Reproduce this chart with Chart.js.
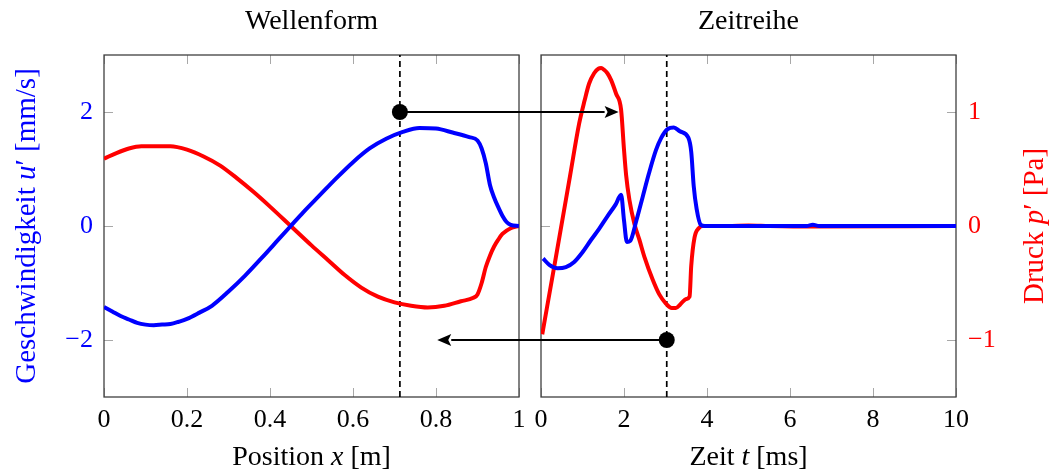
<!DOCTYPE html>
<html>
<head>
<meta charset="utf-8">
<script src="https://cdn.jsdelivr.net/npm/chart.js@4.4.1/dist/chart.umd.min.js"></script>
<style>
  html, body { margin: 0; padding: 0; background: #fff; }
  #wrap { position: relative; width: 1049px; height: 472px; }
  #wrap canvas { position: absolute; left: 0; top: 0; }
</style>
</head>
<body>
<div id="wrap">
  <canvas id="wave-chart" width="1049" height="472"></canvas>
  <canvas id="series-chart" width="1049" height="472"></canvas>
</div>
<script>
// Waveform along the duct: velocity u' [mm/s] and pressure p' [Pa] over x [m]
const waveX = [0, 0.02, 0.04, 0.06, 0.08, 0.10, 0.12, 0.14, 0.16, 0.18, 0.20, 0.23, 0.26, 0.30,
  0.34, 0.38, 0.42, 0.45, 0.48, 0.52, 0.56, 0.60, 0.64, 0.68, 0.72, 0.76, 0.80, 0.84, 0.88,
  0.90, 0.91, 0.92, 0.93, 0.94, 0.95, 0.96, 0.97, 0.98, 1.0];
const waveVelocity = [-1.42, -1.50, -1.58, -1.64, -1.70, -1.73, -1.74, -1.73, -1.72, -1.68, -1.63, -1.52, -1.40, -1.15,
  -0.87, -0.56, -0.24, 0.0, 0.24, 0.54, 0.84, 1.12, 1.36, 1.53, 1.65, 1.72, 1.71, 1.64, 1.56,
  1.50, 1.36, 1.10, 0.72, 0.50, 0.33, 0.18, 0.07, 0.02, 0.0];
const waveXp = [0, 0.03, 0.06, 0.09, 0.12, 0.16, 0.20, 0.24, 0.28, 0.32, 0.36, 0.40, 0.45, 0.50,
  0.54, 0.58, 0.62, 0.66, 0.70, 0.74, 0.78, 0.82, 0.86, 0.89, 0.90, 0.91, 0.92, 0.93, 0.94,
  0.95, 0.96, 0.98, 1.0];
const wavePressure = [0.59, 0.64, 0.68, 0.70, 0.70, 0.70, 0.67, 0.61, 0.53, 0.42, 0.30, 0.17, 0.0, -0.17,
  -0.30, -0.43, -0.54, -0.62, -0.67, -0.70, -0.715, -0.70, -0.66, -0.63, -0.60, -0.50, -0.36, -0.26, -0.18,
  -0.12, -0.07, -0.02, 0.0];

// Time series at the probe: velocity and pressure over t [ms]
const seriesT = [0.05, 0.2, 0.4, 0.6, 0.8, 1.0, 1.2, 1.4, 1.6, 1.8, 1.93, 2.0, 2.07, 2.15, 2.3, 2.45,
  2.6, 2.77, 2.9, 3.05, 3.2, 3.35, 3.55, 3.62, 3.68, 3.75, 3.85, 3.95, 5.0, 6.4, 6.55, 6.7, 10];
const seriesVelocity = [-0.57, -0.68, -0.74, -0.72, -0.63, -0.46, -0.25, -0.05, 0.17, 0.38, 0.55, 0.10, -0.28, -0.26, 0.10, 0.51,
  0.92, 1.33, 1.55, 1.70, 1.73, 1.66, 1.55, 1.30, 0.70, 0.30, 0.02, 0.0, 0.0, 0.0, 0.02, 0.0, 0.0];
const seriesTp = [0.03, 0.36, 0.7, 0.92, 1.05, 1.16, 1.28, 1.38, 1.45, 1.52, 1.6, 1.69, 1.81, 1.93, 2.0,
  2.05, 2.13, 2.25, 2.37, 2.5, 2.69, 2.85, 3.01, 3.15, 3.25, 3.35, 3.5, 3.58, 3.62, 3.7, 3.8, 3.9,
  4.5, 5.0, 5.5, 6.5, 10];
const seriesPressure = [-0.95, -0.27, 0.44, 0.90, 1.10, 1.25, 1.34, 1.38, 1.385, 1.37, 1.34, 1.28, 1.16, 1.02, 0.67,
  0.45, 0.23, 0.02, -0.12, -0.28, -0.47, -0.60, -0.68, -0.72, -0.72, -0.69, -0.64, -0.62, -0.35, -0.10, -0.02, 0.0,
  0.0, 0.005, 0.0, -0.005, 0.0];

// Axis ticks
const positionTicks = [0, 0.2, 0.4, 0.6, 0.8, 1];
const timeTicks = [0, 2, 4, 6, 8, 10];
const velocityTicks = [-2, 0, 2];
const pressureTicks = [-1, 0, 1];

// Probe location / time (dashed lines) and the two linking arrows
const probePosition = 0.713;
const probeTime = 3.03;
const probeVelocity = 2;     // dot on the waveform side
const probePressure = -1;    // dot on the time series side
const arrowTipTime = 1.87;   // arrow into the time series panel
const arrowTipPosition = 0.803; // arrow back into the waveform panel

const SERIF = "'Liberation Serif', 'Times New Roman', serif";
const BLUE = '#0000ff';
const RED = '#ff0000';

function fmtTick(v) {
  return v < 0 ? '\u2212' + Math.abs(v) : String(v);
}

function points(xs, ys) {
  return xs.map((x, i) => ({ x: x, y: ys[i] }));
}

// draws a label made of normal/italic parts, centred on (x, y)
function drawRichText(ctx, parts, x, y, rotation, color, size) {
  ctx.save();
  ctx.translate(x, y);
  ctx.rotate(rotation);
  ctx.fillStyle = color;
  ctx.textBaseline = 'middle';
  ctx.textAlign = 'left';
  const fontFor = p => (p.italic ? 'italic ' : '') + size + 'px ' + SERIF;
  let total = 0;
  parts.forEach(p => { ctx.font = fontFor(p); total += ctx.measureText(p.text).width; });
  let cx = -total / 2;
  parts.forEach(p => {
    ctx.font = fontFor(p);
    ctx.fillText(p.text, cx, 0);
    cx += ctx.measureText(p.text).width;
  });
  ctx.restore();
}

// frame around the plot area with inward tick marks on all four sides
const panelFrame = {
  id: 'panelFrame',
  beforeDatasetsDraw(chart, args, opts) {
    const { ctx, chartArea: a } = chart;
    const xs = chart.scales.x;
    const ys = chart.scales[opts.tickAxis];
    const len = 9;
    ctx.save();
    ctx.strokeStyle = '#a8a8a8';
    ctx.lineWidth = 1;
    ctx.beginPath();
    xs.ticks.forEach(t => {
      const px = Math.round(xs.getPixelForValue(t.value)) + 0.5;
      ctx.moveTo(px, a.bottom); ctx.lineTo(px, a.bottom - len);
      ctx.moveTo(px, a.top); ctx.lineTo(px, a.top + len);
    });
    ys.ticks.forEach(t => {
      const py = Math.round(ys.getPixelForValue(t.value)) + 0.5;
      ctx.moveTo(a.left, py); ctx.lineTo(a.left + len, py);
      ctx.moveTo(a.right, py); ctx.lineTo(a.right - len, py);
    });
    ctx.stroke();
    ctx.strokeStyle = '#404040';
    ctx.lineWidth = 1.3;
    ctx.strokeRect(a.left, a.top, a.right - a.left, a.bottom - a.top);
    ctx.restore();
  },
  afterDraw(chart, args, opts) {
    const { ctx, chartArea: a } = chart;
    const cx = (a.left + a.right) / 2;
    drawRichText(ctx, opts.xTitle, cx, chart.height - 14, 0, '#000', 28);
    if (opts.yTitle) {
      drawRichText(ctx, opts.yTitle.parts, opts.yTitle.x, (a.top + a.bottom) / 2, -Math.PI / 2, opts.yTitle.color, 29);
    }
  }
};

// arrows linking the two panels, drawn on the top canvas
const linkArrows = {
  id: 'linkArrows',
  afterDraw(chart) {
    const wave = Chart.getChart('wave-chart');
    if (!wave) return;
    const ctx = chart.ctx;
    const arrows = [
      { from: [wave.scales.x.getPixelForValue(probePosition), wave.scales.y.getPixelForValue(probeVelocity)],
        to: [chart.scales.x.getPixelForValue(arrowTipTime), chart.scales.yp.getPixelForValue(1)] },
      { from: [chart.scales.x.getPixelForValue(probeTime), chart.scales.yp.getPixelForValue(probePressure)],
        to: [wave.scales.x.getPixelForValue(arrowTipPosition), wave.scales.y.getPixelForValue(-2)] }
    ];
    ctx.save();
    ctx.strokeStyle = '#000';
    ctx.fillStyle = '#000';
    ctx.lineWidth = 2.2;
    arrows.forEach(({ from, to }) => {
      const dx = to[0] - from[0], dy = to[1] - from[1];
      const d = Math.hypot(dx, dy), ux = dx / d, uy = dy / d;
      const head = 14, half = 6;
      ctx.beginPath();
      ctx.moveTo(from[0], from[1]);
      ctx.lineTo(to[0] - ux * head, to[1] - uy * head);
      ctx.stroke();
      ctx.beginPath();
      ctx.moveTo(to[0], to[1]);
      ctx.lineTo(to[0] - ux * head - uy * half, to[1] - uy * head + ux * half);
      ctx.lineTo(to[0] - ux * (head - 3), to[1] - uy * (head - 3));
      ctx.lineTo(to[0] - ux * head + uy * half, to[1] - uy * head - ux * half);
      ctx.closePath();
      ctx.fill();
    });
    ctx.restore();
  }
};

function tickFont() {
  return { family: SERIF, size: 26 };
}

function curve(data, color, axis) {
  return {
    data: data, yAxisID: axis, borderColor: color, borderWidth: 4,
    pointRadius: 0, cubicInterpolationMode: 'monotone', fill: false
  };
}

function probeLine(x, axis, lo, hi) {
  return {
    data: [{ x: x, y: lo }, { x: x, y: hi }], yAxisID: axis, borderColor: '#000',
    borderWidth: 1.7, borderDash: [6, 4], pointRadius: 0, fill: false
  };
}

function probeDot(x, y, axis) {
  return {
    data: [{ x: x, y: y }], yAxisID: axis, showLine: false,
    pointRadius: 8, pointBackgroundColor: '#000', pointBorderWidth: 0
  };
}

function baseOptions(title, padding) {
  return {
    responsive: false,
    animation: false,
    devicePixelRatio: 1,
    layout: { padding: padding },
    plugins: {
      legend: { display: false },
      tooltip: { enabled: false },
      title: {
        display: true, text: title, fullSize: false, color: '#000',
        font: { family: SERIF, size: 28, weight: 'normal' },
        padding: { top: 5, bottom: 16.4 }
      }
    }
  };
}

function xScale(min, max, ticks) {
  return {
    type: 'linear', min: min, max: max,
    grid: { display: false, drawTicks: false }, border: { display: false },
    afterBuildTicks: s => { s.ticks = ticks.map(v => ({ value: v })); },
    afterFit: s => { s.height = 75; },
    ticks: { color: '#000', font: tickFont(), padding: 8, maxRotation: 0, callback: fmtTick }
  };
}

// left panel: waveform
const waveOpts = baseOptions('Wellenform', { left: 0, right: 530, top: 0, bottom: 0 });
waveOpts.scales = {
  x: xScale(0, 1, positionTicks),
  y: {
    type: 'linear', position: 'left', min: -3, max: 3,
    grid: { display: false, drawTicks: false }, border: { display: false },
    afterBuildTicks: s => { s.ticks = velocityTicks.map(v => ({ value: v })); },
    afterFit: s => { s.width = 104; },
    ticks: { color: BLUE, font: tickFont(), padding: 11, callback: fmtTick }
  },
  yp: { type: 'linear', display: false, min: -1.5, max: 1.5 }
};
waveOpts.plugins.panelFrame = {
  tickAxis: 'y',
  xTitle: [{ text: 'Position ' }, { text: 'x', italic: true }, { text: ' [m]' }],
  yTitle: { x: 27, color: BLUE, parts: [{ text: 'Geschwindigkeit ' }, { text: 'u', italic: true }, { text: '\u2032 [mm/s]' }] }
};

new Chart(document.getElementById('wave-chart'), {
  type: 'line',
  data: {
    datasets: [
      curve(points(waveX, waveVelocity), BLUE, 'y'),
      curve(points(waveXp, wavePressure), RED, 'yp'),
      probeLine(probePosition, 'y', -3, 3),
      probeDot(probePosition, probeVelocity, 'y')
    ]
  },
  options: waveOpts,
  plugins: [panelFrame]
});

// right panel: time series
const seriesOpts = baseOptions('Zeitreihe', { left: 541, right: 0, top: 0, bottom: 0 });
seriesOpts.scales = {
  x: xScale(0, 10, timeTicks),
  y: { type: 'linear', display: false, min: -3, max: 3 },
  yp: {
    type: 'linear', position: 'right', min: -1.5, max: 1.5,
    grid: { display: false, drawTicks: false }, border: { display: false },
    afterBuildTicks: s => { s.ticks = pressureTicks.map(v => ({ value: v })); },
    afterFit: s => { s.width = 93; },
    ticks: { color: RED, font: tickFont(), padding: 12, callback: fmtTick }
  }
};
seriesOpts.plugins.panelFrame = {
  tickAxis: 'yp',
  xTitle: [{ text: 'Zeit ' }, { text: 't', italic: true }, { text: ' [ms]' }],
  yTitle: { x: 1035, color: RED, parts: [{ text: 'Druck ' }, { text: 'p', italic: true }, { text: '\u2032 [Pa]' }] }
};

new Chart(document.getElementById('series-chart'), {
  type: 'line',
  data: {
    datasets: [
      curve(points(seriesT, seriesVelocity), BLUE, 'y'),
      curve(points(seriesTp, seriesPressure), RED, 'yp'),
      probeLine(probeTime, 'yp', -1.5, 1.5),
      probeDot(probeTime, probePressure, 'yp')
    ]
  },
  options: seriesOpts,
  plugins: [panelFrame, linkArrows]
});
</script>
</body>
</html>
